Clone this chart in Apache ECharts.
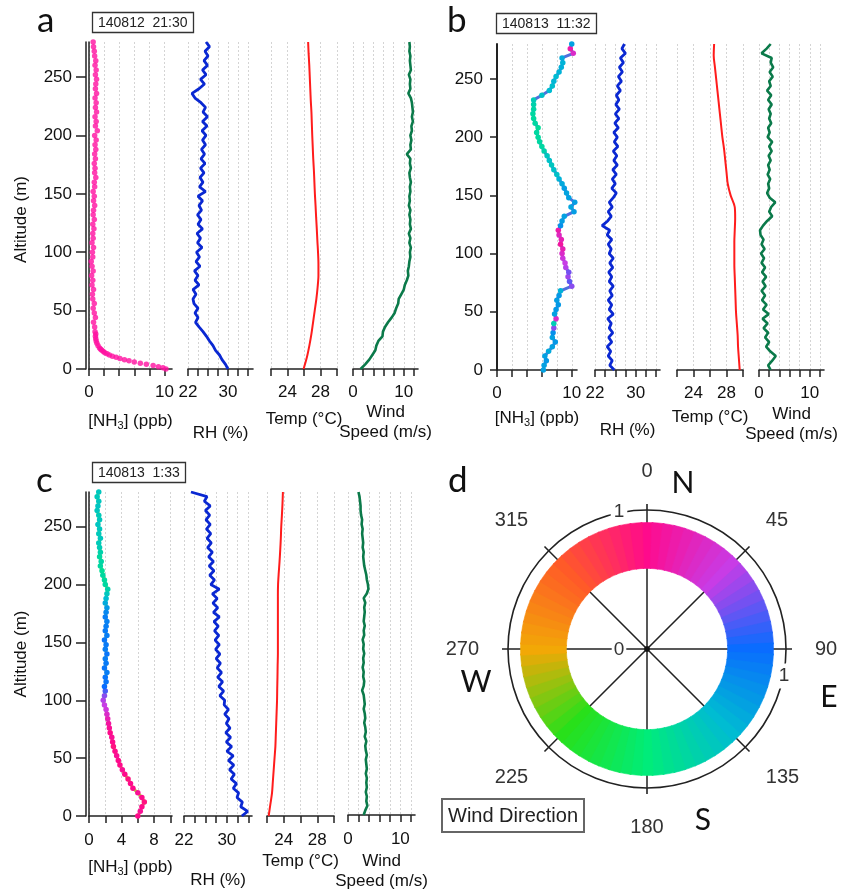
<!DOCTYPE html>
<html><head><meta charset="utf-8">
<script src="https://cdn.jsdelivr.net/npm/echarts@6/dist/echarts.min.js"></script>
<style>html,body{margin:0;padding:0;background:#fff}#c{width:852px;height:892px}</style>
</head><body><div id="c"></div>
<script>
// ---------------- data ----------------
const alt4 = [0,4,8,12,16,20,24,28,32,36,40,44,48,52,56,60,64,68,72,76,80,84,88,92,96,100,104,108,112,116,120,124,128,132,136,140,144,148,152,156,160,164,168,172,176,180,184,188,192,196,200,204,208,212,216,220,224,228,232,236,240,244,248,252,256,260,264,268,272,276,280];
const alt10 = [0,10,20,30,40,50,60,70,80,90,100,110,120,130,140,150,160,170,180,190,200,210,220,230,240,250,260,270,280];
const altTicks = [0,50,100,150,200,250];

// panel a  (140812 21:30)
const nh3AAlt = [0,1,2,3,4,5,6,7,8,9,10,11,12,13,14,15,16,17,18,20,22,24,26,28,30,32,
  36,40,44,48,52,56,60,64,68,72,76,80,84,88,92,96,100,104,108,112,116,120,124,128,132,136,140,144,148,152,156,160,164,168,172,176,180,184,188,192,196,200,204,208,212,216,220,224,228,232,236,240,244,248,252,256,260,264,268,272,276,280];
const nh3A = [10.2,9.8,9.2,8.5,7.6,6.8,6.0,5.3,4.7,4.1,3.6,3.1,2.7,2.4,2.1,1.9,1.7,1.55,1.4,1.2,1.05,0.95,0.9,0.85,0.9,0.8,
  0.75,0.6,0.85,0.7,0.55,0.7,0.5,0.45,0.6,0.4,
  0.5,0.35,0.55,0.4,0.3,0.5,0.45,0.6,0.4,0.55,
  0.5,0.65,0.5,0.7,0.55,0.6,0.75,0.6,0.7,0.55,
  0.75,0.7,0.9,0.75,0.8,0.7,0.85,0.75,0.9,0.8,
  0.95,0.75,1.1,0.85,0.95,0.8,1.0,0.85,0.95,0.8,
  1.0,0.85,0.9,1.0,0.85,0.95,0.8,0.9,0.75,0.7,
  0.6,0.55];
const rhA = [30.0,29.5,28.8,28.3,27.5,27.0,26.3,25.7,25.0,24.2,
  23.5,24.0,23.4,24.0,23.2,23.0,23.6,23.0,24.2,23.4,
  24.0,23.3,24.4,23.6,24.3,23.7,24.8,23.9,24.5,23.8,
  24.9,24.0,24.6,23.9,24.7,24.2,24.9,24.0,25.5,24.3,
  25.0,24.4,25.2,24.5,25.4,24.6,25.3,24.7,25.5,24.9,
  25.6,24.8,25.8,24.9,25.9,25.0,25.5,24.6,23.4,22.8,
  24.2,25.3,24.5,25.6,24.9,25.9,25.2,26.0,25.4,26.3,
  25.6];
const tempA = [25.95,26.35,26.65,26.9,27.1,27.3,27.5,27.65,27.75,27.75,27.7,27.62,27.55,27.47,27.4,27.32,27.26,27.2,27.12,27.06,27.0,26.95,26.9,26.82,26.76,26.7,26.64,26.56,26.5];
const windA = [1.5,2.4,3.2,3.8,4.4,4.6,5.0,5.8,5.9,6.3,
  6.9,7.6,8.2,8.5,8.9,9.0,9.5,10.0,10.2,10.6,
  10.9,10.8,11.0,11.1,11.3,11.2,11.4,11.1,11.3,11.0,
  11.4,11.2,11.3,11.1,11.3,11.0,11.2,11.1,11.3,11.2,
  11.4,11.2,11.1,11.4,11.2,11.3,10.6,11.4,11.3,11.5,
  11.3,11.6,11.5,11.8,11.6,11.8,11.7,11.6,11.4,10.9,
  11.3,11.2,11.3,11.0,11.4,11.3,11.2,11.3,11.1,11.2,
  11.1];

// panel b  (140813 11:32)
const nh3B = [6.2,6.3,6.6,6.4,6.9,7.4,7.8,7.4,7.5,7.6,
  7.6,7.9,7.7,7.9,8.2,8.0,8.3,8.5,10.0,9.7,
  9.5,9.6,9.2,9.1,8.8,8.7,8.8,8.5,8.6,8.3,
  8.2,8.5,8.7,9.0,10.3,9.9,10.4,9.6,9.3,9.0,
  8.7,8.3,8.0,7.6,7.3,7.0,6.7,6.3,6.0,5.7,
  5.5,5.3,5.5,5.1,4.9,4.8,4.9,4.9,4.9,6.0,
  7.0,7.4,7.6,7.9,8.3,8.6,8.8,8.7,10.2,9.8,
  10.0];
const dirB = [120,120,115,120,125,120,115,120,
  110,60,150,30,120,115,115,118,115,130,
  60,70,55,65,50,45,40,30,20,10,
  20,25,15,110,118,120,118,122,118,120,
  122,118,125,130,140,140,145,140,145,155,
  160,160,162,160,165,160,162,160,158,155,
  150,140,135,138,132,135,130,128,130,125,
  30,15,120];
const rhB = [25.8,24.9,25.4,24.6,25.1,24.4,25.3,24.7,25.5,24.8,
  25.2,24.5,25.6,24.8,25.3,24.6,25.4,24.9,25.6,24.8,
  25.3,24.7,25.5,24.9,25.6,24.8,25.2,24.6,25.3,24.4,
  24.9,23.4,24.5,25.2,24.6,25.4,24.8,25.6,26.2,25.3,
  26.0,25.4,26.2,25.5,26.4,25.7,26.3,25.6,26.5,25.8,
  26.4,25.7,26.6,25.9,26.7,26.0,26.8,26.1,26.7,26.2,
  27.0,26.4,27.2,26.6,27.4,26.8,27.6,27.0,28.0,27.3,
  27.8];
const tempB = [29.6,29.5,29.4,29.35,29.25,29.15,29.1,29.05,29.0,28.95,28.95,28.95,29.0,29.05,29.0,28.5,28.15,28.0,27.85,27.7,27.5,27.35,27.2,27.05,26.9,26.75,26.6,26.45,26.5];
const windB = [2.3,1.8,2.6,3.3,2.2,1.4,2.0,1.2,1.8,0.9,
  1.7,0.7,1.9,0.8,1.5,0.6,1.2,0.5,1.3,0.7,
  1.4,0.6,1.2,0.5,1.0,0.4,1.1,0.5,0.9,0.3,
  0.2,0.8,1.6,2.6,2.0,2.4,3.2,2.1,1.6,2.0,
  1.8,2.2,1.7,2.1,1.8,2.3,1.9,2.5,2.0,2.6,
  1.7,2.1,1.8,2.4,2.0,2.3,1.9,2.5,1.8,2.4,
  1.6,2.3,2.0,2.7,2.1,2.8,2.3,2.5,0.5,1.5,
  2.3];

// panel c  (140813 1:33)
const nh3C = [6.0,6.3,6.5,6.8,6.5,6.0,5.4,5.1,4.8,4.4,
  4.1,3.8,3.6,3.4,3.2,3.0,2.9,2.8,2.6,2.5,
  2.4,2.3,2.2,2.1,1.9,1.75,1.9,2.0,1.9,2.1,
  2.0,2.2,1.9,2.1,2.0,2.2,2.0,2.1,1.9,2.2,
  2.0,2.1,2.2,2.0,2.1,2.2,2.0,2.1,2.2,2.3,
  2.0,1.9,1.7,1.6,1.4,1.5,1.3,1.4,1.3,1.2,
  1.4,1.2,1.3,1.1,1.3,1.2,1.0,1.1,1.2,1.0,
  1.2];
const dirC = [0,5,0,355,0,5,0,0,355,0,5,0,0,5,0,355,0,5,0,5,
  10,20,30,40,45,50,60,75,90,95,
  95,100,95,98,100,95,100,98,95,100,98,100,102,100,
  105,115,125,135,145,155,160,162,160,165,
  160,158,160,155,150,148,145,147,145,143,
  145,148,145,143,145,147,145];
const rhC = [32.8,33.9,32.6,32.9,31.9,32.2,31.2,31.8,30.8,31.4,
  30.5,31.3,30.3,31.2,30.0,30.9,29.9,30.7,29.8,30.6,
  29.9,30.4,29.6,30.3,29.5,29.6,28.7,29.4,28.5,29.2,
  28.3,29.0,28.2,28.8,28.0,28.7,27.9,28.6,27.8,28.5,
  27.7,28.4,27.6,28.6,27.5,28.3,27.4,28.2,27.3,28.6,
  27.0,27.7,26.8,27.6,26.7,27.5,26.6,27.3,26.4,27.1,
  26.3,27.0,26.2,26.9,26.1,26.8,26.0,26.9,25.8,26.3,
  23.3];
const tempC = [22.2,22.4,22.6,22.7,22.8,22.9,23.0,23.05,23.1,23.15,23.2,23.22,23.25,23.27,23.3,23.3,23.3,23.3,23.3,23.3,23.32,23.4,23.5,23.58,23.65,23.7,23.78,23.85,23.9];
const windC = [3.0,3.3,3.7,3.5,3.6,3.4,3.6,3.5,3.6,3.4,
  3.6,3.5,3.4,3.6,3.4,3.3,3.5,3.2,3.4,3.3,
  3.1,3.3,3.2,3.0,3.2,3.1,3.0,2.7,3.0,3.1,
  2.9,3.0,2.8,3.0,2.9,3.1,2.9,3.0,2.8,3.1,
  3.0,3.2,3.0,3.1,3.2,3.1,3.3,3.0,3.6,3.9,
  3.8,3.6,3.5,3.3,3.1,3.0,2.9,3.0,2.8,2.9,
  2.8,2.7,2.8,2.6,2.7,2.5,2.4,2.4,2.3,2.2,
  2.0];

// axis ticks / labels
const nh3Ticks = [0,2,4,6,8,10];
const nh3LabelsAB = [0,10];
const nh3LabelsC = [0,4,8];
const rhTicks = [22,24,26,28,30,32,34];
const rhLabels = [22,30];
const tempTicks = [22,24,26,28,30];
const tempLabels = [24,28];
const windTicks = [0,2,4,6,8,10,12];
const windLabels = [0,10];

// wind direction colour wheel
const wheelDirs = [0,45,90,135,180,225,270,315,360];
const wheelColors = ['#ff0a8c','#c83ce6','#0a6cff','#00bcd2','#00ec7a','#28e01a','#f2a806','#ff5a28','#ff0a8c'];
const wheelLabels = [0,45,90,135,180,225,270,315];
const ringDirs = [0,5,10,15,20,25,30,35,40,45,50,55,60,65,70,75,80,85,90,95,100,105,110,115,120,125,130,135,140,145,150,155,160,165,170,175,180,185,190,195,200,205,210,215,220,225,230,235,240,245,250,255,260,265,270,275,280,285,290,295,300,305,310,315,320,325,330,335,340,345,350,355];

// ---------------- chart ----------------
const FONT = "'Liberation Sans', Arial, Helvetica, sans-serif";
const LETTER = "Lato, 'Open Sans', sans-serif";
const AX = '#222';

function pairs(vals, alts, extra) {
  return vals.map((v, i) => extra ? [v, alts[i], extra[i]] : [v, alts[i]]);
}

const panels = [
  { top: 42, bottom: 369, dbl: true, nameShift: 28, lblMargin: 15,
    subs: [[89,172,0,11],[188,253,22,35],[271,337,22,30],[353,418,0,12.8]],
    gaps: [42,54,40,33],
    nh3: pairs(nh3A, nh3AAlt), rh: pairs(rhA, alt4), temp: pairs(tempA, alt10), wind: pairs(windA, alt4),
    nh3Labels: nh3LabelsAB, nh3Color: '#ff10a0' },
  { top: 44, bottom: 370, dbl: false, nameShift: 0, lblMargin: 15,
    subs: [[497,577,0,10.7],[595,660,22,34.8],[677,743,22,30],[759,824,0,12.8]],
    gaps: [38,50,37,34],
    nh3: pairs(nh3B, alt4, dirB), rh: pairs(rhB, alt4), temp: pairs(tempB, alt10), wind: pairs(windB, alt4),
    nh3Labels: nh3LabelsAB, nh3Color: null },
  { top: 492, bottom: 816, dbl: true, nameShift: 0, lblMargin: 16,
    subs: [[89,172,0,10.2],[184,252,22,34.7],[267,334,22,30],[348,415,0,12.8]],
    gaps: [41,54,35,36],
    nh3: pairs(nh3C, alt4, dirC), rh: pairs(rhC, alt4), temp: pairs(tempC, alt10), wind: pairs(windC, alt4),
    nh3Labels: nh3LabelsC, nh3Color: null }
];

const names = ['[NH{s|3}] (ppb)', 'RH (%)', 'Temp (°C)', 'Wind\nSpeed (m/s)'];
const grid = [], xAxis = [], yAxis = [], series = [];
const nameStyle = { fontSize: 17, fontFamily: FONT, color: '#111', lineHeight: 20,
  rich: { s: { fontSize: 11, fontFamily: FONT, color: '#111', verticalAlign: 'bottom', lineHeight: 14 } } };

panels.forEach((p, pi) => {
  p.subs.forEach((s, j) => {
    const gi = grid.length;
    grid.push({ left: s[0], width: s[1] - s[0], top: p.top, height: p.bottom - p.top });
    const ticks = [nh3Ticks, rhTicks, tempTicks, windTicks][j];
    const labels = [p.nh3Labels, rhLabels, tempLabels, windLabels][j];
    xAxis.push({
      gridIndex: gi, type: 'value', min: s[2], max: s[3], interval: 2,
      axisLine: { show: true, lineStyle: { color: AX, width: 1.6 } },
      axisTick: { show: true, length: 7, lineStyle: { color: AX, width: 1.5 }, customValues: ticks },
      axisLabel: { customValues: labels, fontSize: 17, fontFamily: FONT, color: '#111', margin: p.lblMargin },
      splitLine: { show: true, lineStyle: { color: '#d4d4d4', width: 1, type: [2, 2] } },
      name: names[j], nameLocation: 'middle', nameGap: p.gaps[j], nameTextStyle: nameStyle
    });
    let yi = yAxis.length;
    if (j === 0) {
      if (p.dbl) {
        yAxis.push({ gridIndex: gi, type: 'value', min: 0, max: 280,
          axisLine: { show: true, lineStyle: { color: AX, width: 1.5 } },
          axisTick: { show: false }, axisLabel: { show: false }, splitLine: { show: false } });
        yAxis.push({ gridIndex: gi, type: 'value', min: 0, max: 280, position: 'left', offset: 3,
          axisLine: { show: true, lineStyle: { color: AX, width: 1.5 } },
          axisTick: { show: true, length: 10, lineStyle: { color: AX, width: 1.5 }, customValues: altTicks },
          axisLabel: { customValues: altTicks, fontSize: 17, fontFamily: FONT, color: '#111', margin: 14 },
          splitLine: { show: false },
          name: 'Altitude (m)', nameLocation: 'middle', nameGap: 56,
          nameTextStyle: { fontSize: 17, fontFamily: FONT, color: '#111', padding: [0, p.nameShift, 0, 0] } });
      } else {
        yAxis.push({ gridIndex: gi, type: 'value', min: 0, max: 280,
          axisLine: { show: true, lineStyle: { color: AX, width: 2 } },
          axisTick: { show: true, length: 7, lineStyle: { color: AX, width: 1.5 }, customValues: altTicks },
          axisLabel: { customValues: altTicks, fontSize: 17, fontFamily: FONT, color: '#111', margin: 14 },
          splitLine: { show: false } });
      }
    } else {
      yAxis.push({ gridIndex: gi, type: 'value', min: 0, max: 280, show: false });
    }
    const base = { xAxisIndex: gi, yAxisIndex: yi, animation: false, silent: true };
    if (j === 0) {
      if (p.nh3Color) {
        series.push(Object.assign({}, base, {
          type: 'scatter', data: p.nh3, symbol: 'circle', symbolSize: 5.5,
          itemStyle: { color: p.nh3Color }, z: 3
        }));
      } else {
        series.push(Object.assign({}, base, {
          type: 'line', data: p.nh3, symbol: 'circle', symbolSize: 5.5, showSymbol: true,
          lineStyle: { width: 3 }, z: 3
        }));
      }
    } else if (j === 1) {
      series.push(Object.assign({}, base, { type: 'line', data: p.rh, showSymbol: false,
        lineStyle: { width: 2.8, color: '#0a28d2' }, itemStyle: { color: '#0a28d2' } }));
    } else if (j === 2) {
      series.push(Object.assign({}, base, { type: 'line', data: p.temp, showSymbol: false, smooth: 0.3,
        lineStyle: { width: 2, color: '#ff1c1c' }, itemStyle: { color: '#ff1c1c' } }));
    } else {
      series.push(Object.assign({}, base, { type: 'line', data: p.wind, showSymbol: false,
        lineStyle: { width: 2.6, color: '#0b7a4a' }, itemStyle: { color: '#0b7a4a' } }));
    }
  });
});

const RING_IN = 0.58, RING_OUT = 0.91, HALF = 2.8;
const ringIndex = series.length;
series.push({
  type: 'custom', coordinateSystem: 'polar', polarIndex: 0, silent: true, animation: false, z: 3,
  data: ringDirs.map(d => [1, d, d]),
  renderItem: function (params, api) {
    const d = api.value(1);
    const c = api.coord([0, d]);
    const pin = api.coord([RING_IN, d]);
    const pout = api.coord([RING_OUT, d]);
    const pa = api.coord([1, d - HALF]);
    const pb = api.coord([1, d + HALF]);
    const r0 = Math.hypot(pin[0] - c[0], pin[1] - c[1]);
    const r = Math.hypot(pout[0] - c[0], pout[1] - c[1]);
    let a0 = Math.atan2(pa[1] - c[1], pa[0] - c[0]);
    let a1 = Math.atan2(pb[1] - c[1], pb[0] - c[0]);
    if (a1 < a0) a1 += Math.PI * 2;
    const col = api.visual('color');
    return { type: 'sector', shape: { cx: c[0], cy: c[1], r0: r0, r: r, startAngle: a0, endAngle: a1, clockwise: true },
      style: { fill: col, stroke: col, lineWidth: 0.6 } };
  }
});
series.push({ type: 'scatter', coordinateSystem: 'polar', polarIndex: 0, data: [[0, 0]], symbolSize: 6,
  itemStyle: { color: '#111' }, silent: true, animation: false, z: 4 });

const txt = (t, x, y, size, fam, align, extra) => ({
  type: 'text', x: x, y: y, silent: true, z: 10,
  style: Object.assign({ text: t, fontSize: size, fontFamily: fam, fill: '#111',
    align: align, textAlign: align, verticalAlign: 'middle', textVerticalAlign: 'middle' }, extra || {})
});

const option = {
  animation: false,
  backgroundColor: '#fff',
  textStyle: { fontFamily: FONT },
  title: [
    { text: '140812  21:30', left: 92, top: 12, borderColor: '#333', borderWidth: 1.3, padding: [4, 6, 3, 6],
      textStyle: { fontSize: 14, fontWeight: 'normal', fontFamily: FONT, color: '#222' } },
    { text: '140813  11:32', left: 496, top: 13, borderColor: '#333', borderWidth: 1.3, padding: [4, 6, 3, 6],
      textStyle: { fontSize: 14, fontWeight: 'normal', fontFamily: FONT, color: '#222' } },
    { text: '140813  1:33', left: 92, top: 462, borderColor: '#333', borderWidth: 1.3, padding: [4, 6, 3, 6],
      textStyle: { fontSize: 14, fontWeight: 'normal', fontFamily: FONT, color: '#222' } },
    { text: 'Wind Direction', left: 442, top: 799, borderColor: '#666', borderWidth: 2, padding: [7, 6, 6, 6],
      textStyle: { fontSize: 20, fontWeight: 'normal', fontFamily: FONT, color: '#222' } }
  ],
  grid: grid, xAxis: xAxis, yAxis: yAxis,
  polar: [{ center: [647, 649], radius: 139 }],
  angleAxis: [{
    polarIndex: 0, type: 'value', min: 0, max: 360, interval: 45, startAngle: 90, clockwise: true,
    axisLine: { show: true, lineStyle: { color: AX, width: 1.6 } },
    axisTick: { show: true, length: 6, lineStyle: { color: AX, width: 1.6 } },
    axisLabel: { margin: 29, fontSize: 20, fontFamily: FONT, color: '#333',
      formatter: v => (wheelLabels.indexOf(v) >= 0 ? String(v) : '') },
    splitLine: { show: true, lineStyle: { color: AX, width: 1.5 } }
  }],
  radiusAxis: [{
    polarIndex: 0, type: 'value', min: 0, max: 1,
    axisLine: { show: false }, axisTick: { show: false }, axisLabel: { show: false }, splitLine: { show: false }
  }],
  visualMap: [{
    type: 'continuous', show: false, min: wheelDirs[0], max: wheelDirs[wheelDirs.length - 1], dimension: 2,
    seriesIndex: [4, 8, ringIndex], inRange: { color: wheelColors }
  }],
  graphic: [
    txt('a', 37, 21, 35, LETTER, 'left'),
    txt('b', 447, 21, 35, LETTER, 'left'),
    txt('c', 36, 481, 35, LETTER, 'left'),
    txt('d', 448, 481, 35, LETTER, 'left'),
    txt('N', 683, 483, 30, LETTER, 'center'),
    txt('W', 476, 682, 30, LETTER, 'center'),
    txt('E', 829, 697, 30, LETTER, 'center'),
    txt('S', 703, 820, 30, LETTER, 'center'),
    txt('0', 619, 650, 19, FONT, 'center', { backgroundColor: '#fff', padding: [0, 2], fill: '#333' }),
    txt('1', 619, 512, 19, FONT, 'center', { backgroundColor: '#fff', padding: [0, 3], fill: '#333' }),
    txt('1', 784, 676, 19, FONT, 'center', { backgroundColor: '#fff', padding: [3, 0], fill: '#333' })
  ],
  series: series
};

const chart = echarts.init(document.getElementById('c'), null, { renderer: 'canvas' });
chart.setOption(option);
</script></body></html>
